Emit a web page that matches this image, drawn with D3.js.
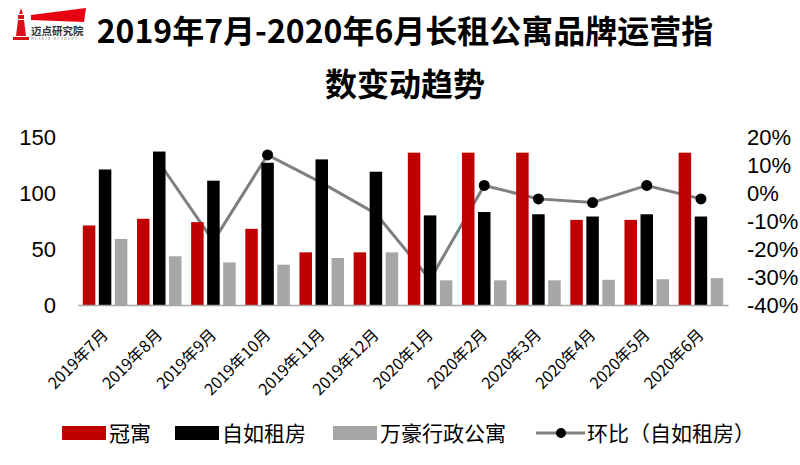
<!DOCTYPE html>
<html>
<head>
<meta charset="utf-8">
<script src="https://cdn.jsdelivr.net/npm/d3@7"></script>
<style>
  body { margin: 0; background: #fff; }
  svg { display: block; font-family: "Noto Sans CJK SC", "Noto Sans", sans-serif; }
</style>
</head>
<body>
<div class="chart"></div>
<script>
/* chart data */
const months = ["2019年7月", "2019年8月", "2019年9月", "2019年10月", "2019年11月", "2019年12月",
                "2020年1月", "2020年2月", "2020年3月", "2020年4月", "2020年5月", "2020年6月"];
const guanyu = [71, 77, 74, 68, 47, 47, 136, 136, 136, 76, 76, 136];
const ziru = [121, 137, 111, 127, 130, 119, 80, 83, 81, 79, 81, 79];
const wanhao = [59, 43.5, 38, 36, 42, 47, 22, 22, 22, 22.5, 23, 24];
const ziruMoM = [null, 0.108, -0.172, 0.136, 0.036, -0.074, -0.309, 0.027, -0.021, -0.034, 0.027, -0.021];
const leftTicks = [0, 50, 100, 150];
const rightTicks = [-0.4, -0.3, -0.2, -0.1, 0, 0.1, 0.2];
const seriesNames = ["冠寓", "自如租房", "万豪行政公寓"];
const lineName = "环比（自如租房）";

/* colours per series */
const colors = ["#C00000", "#000000", "#A6A6A6"];
const lineColor = "#7F7F7F";

/* dimensions */
const width = 800, height = 465;
const margin = {top: 137, right: 72, bottom: 160, left: 78};
const numFont = "'Liberation Sans', Arial, sans-serif";

const svg = d3.select(".chart")
  .append("svg")
  .attr("width", width)
  .attr("height", height);

/* scales */
const xScale = d3.scaleBand()
  .domain(months)
  .range([margin.left, width - margin.right])
  .padding(0);

const xInner = d3.scaleBand()
  .domain(seriesNames)
  .range([0, xScale.bandwidth()])
  .paddingInner(0.22)
  .paddingOuter(0.3);

const yLeft = d3.scaleLinear()
  .domain([0, 150])
  .range([height - margin.bottom, margin.top]);

const yRight = d3.scaleLinear()
  .domain([-0.4, 0.2])
  .range([height - margin.bottom, margin.top]);

/* logo */
const logo = svg.append("g").attr("class", "logo");
logo.append("path")
  .attr("d", "M19,14 L21,8 L23,14 Z M18,15 L24,15 L24,19 L18,19 Z M18,20 L24,20 L26,36 L16,36 Z M13,37 L29,37 L29,40 L13,40 Z")
  .attr("fill", "#D7121A");
logo.append("path")
  .attr("d", "M31,15 L86,8 L84,22 L31,20 Z")
  .attr("fill", "#E60012");
logo.append("text")
  .attr("x", 31).attr("y", 35)
  .attr("font-size", 10.5).attr("font-weight", "bold")
  .attr("fill", "#333")
  .text("迈点研究院");
logo.append("text")
  .attr("x", 31).attr("y", 40)
  .attr("font-size", 3).attr("letter-spacing", 1.6)
  .attr("fill", "#666")
  .text("MEADIN ACADEMY");

/* title */
svg.append("text")
  .attr("x", 405).attr("y", 43)
  .attr("text-anchor", "middle")
  .attr("font-size", 32).attr("font-weight", "bold")
  .text("2019年7月-2020年6月长租公寓品牌运营指");
svg.append("text")
  .attr("x", 405).attr("y", 96)
  .attr("text-anchor", "middle")
  .attr("font-size", 32).attr("font-weight", "bold")
  .text("数变动趋势");

/* line drawn first so bars sit on top of it */
const line = d3.line()
  .defined(d => d != null)
  .x((d, i) => xScale(months[i]) + xScale.bandwidth() / 2)
  .y(d => yRight(d));

svg.append("path")
  .datum(ziruMoM)
  .attr("fill", "none")
  .attr("stroke", lineColor)
  .attr("stroke-width", 3)
  .attr("d", line);

svg.append("g")
  .selectAll("circle")
  .data(ziruMoM.map((v, i) => ({v, m: months[i]})).filter(d => d.v != null))
  .enter()
  .append("circle")
  .attr("cx", d => xScale(d.m) + xScale.bandwidth() / 2)
  .attr("cy", d => yRight(d.v))
  .attr("r", 5.5)
  .attr("fill", "#000");

/* bars */
const seriesData = [guanyu, ziru, wanhao];
seriesData.forEach((values, s) => {
  svg.append("g")
    .selectAll("rect")
    .data(values)
    .enter()
    .append("rect")
    .attr("x", (d, i) => xScale(months[i]) + xInner(seriesNames[s]))
    .attr("y", d => yLeft(d))
    .attr("width", xInner.bandwidth())
    .attr("height", d => yLeft(0) - yLeft(d))
    .attr("fill", colors[s]);
});

/* x axis */
const xAxis = svg.append("g")
  .attr("transform", `translate(0, ${yLeft(0)})`)
  .call(d3.axisBottom(xScale).tickSize(0).tickPadding(0));
xAxis.select(".domain").attr("stroke", "#A6A6A6").attr("stroke-width", 1.5);
xAxis.selectAll(".tick text")
  .attr("font-size", 16)
  .attr("font-family", "'Noto Sans CJK SC', sans-serif")
  .attr("fill", "#000")
  .attr("text-anchor", "end")
  .attr("dy", 0)
  .attr("transform", "translate(4, 31) rotate(-45)");

/* left axis */
const leftAxis = svg.append("g")
  .attr("transform", `translate(${margin.left - 22}, 0)`)
  .call(d3.axisLeft(yLeft).tickValues(leftTicks).tickSize(0).tickPadding(0));
leftAxis.select(".domain").remove();
leftAxis.selectAll(".tick text")
  .attr("font-size", 22)
  .attr("font-family", numFont)
  .attr("fill", "#000");

/* right axis */
const rightAxis = svg.append("g")
  .attr("transform", `translate(${width - 53}, 0)`)
  .call(d3.axisRight(yRight).tickValues(rightTicks).tickSize(0).tickPadding(0).tickFormat(d3.format(".0%")));
rightAxis.select(".domain").remove();
rightAxis.selectAll(".tick text")
  .attr("font-size", 22)
  .attr("font-family", numFont)
  .attr("fill", "#000")
  .text(d => d3.format(".0%")(d).replace("−", "-"));

/* legend */
const legend = svg.append("g").attr("class", "legend");
const legendX = [62, 175, 333];
seriesNames.forEach((name, s) => {
  legend.append("rect")
    .attr("x", legendX[s]).attr("y", 426)
    .attr("width", 44).attr("height", 14)
    .attr("fill", colors[s]);
  legend.append("text")
    .attr("x", legendX[s] + 47).attr("y", 441)
    .attr("font-size", 21)
    .text(name);
});
legend.append("line")
  .attr("x1", 536).attr("x2", 585)
  .attr("y1", 433).attr("y2", 433)
  .attr("stroke", lineColor).attr("stroke-width", 3);
legend.append("circle")
  .attr("cx", 561).attr("cy", 433).attr("r", 5)
  .attr("fill", "#000");
legend.append("text")
  .attr("x", 587).attr("y", 441)
  .attr("font-size", 21)
  .text(lineName);
</script>
</body>
</html>
